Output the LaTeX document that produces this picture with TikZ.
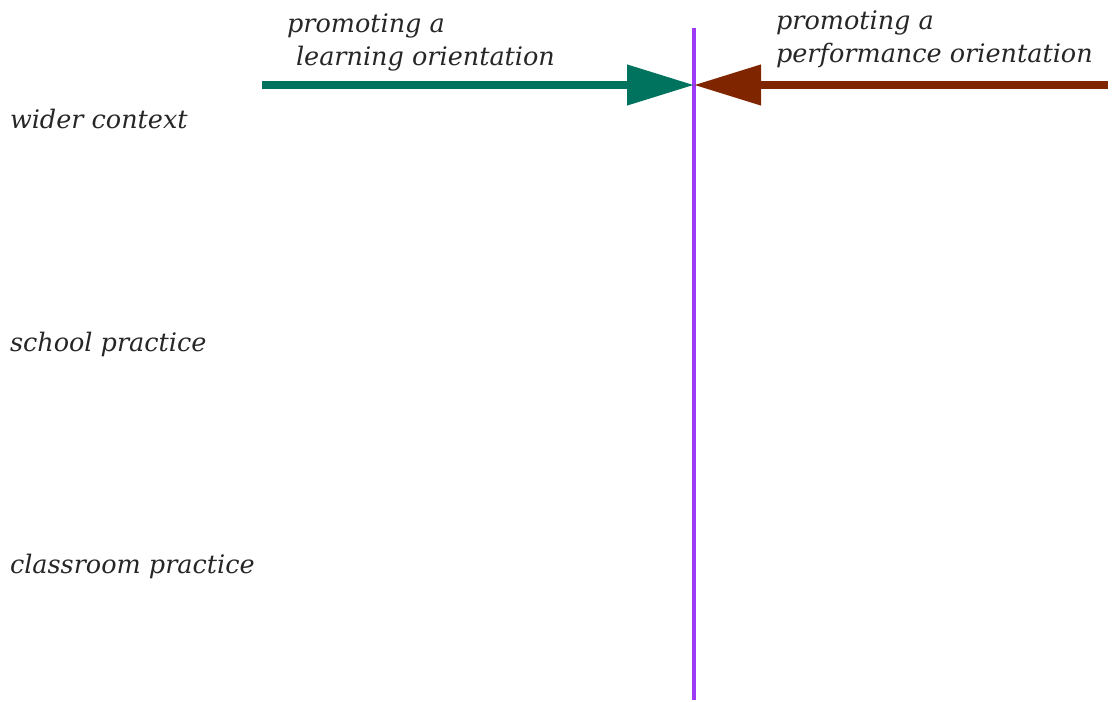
\documentclass[tikz,border=0pt]{standalone}
\usepackage{fontspec}
\setmainfont{DejaVu Serif}
\usetikzlibrary{arrows.meta,positioning}
\definecolor{learnColor}{HTML}{00735F}
\definecolor{perfColor}{HTML}{7F2600}
\definecolor{axisColor}{HTML}{9D3AF5}
\tikzset{
	lab/.style={font=\itshape\fontsize{25.5}{33}\selectfont, inner sep=0, outer sep=0, anchor=base west, align=left, text=black!85},
	push/.style={line width=7.5pt, -{Triangle[length=67pt,width=39pt]}},
	axis/.style={line width=3.5pt, axisColor}
}

\begin{document}
\begin{tikzpicture}[x=1pt, y=-1pt]
\useasboundingbox (0,0) rectangle (1112,702);
\coordinate (axTop) at (694, 28);
\coordinate (axBot) at (694, 700);
\coordinate (meet) at (694, 85);
\coordinate (learnStart) at (262, 85);
\coordinate (perfStart) at (1108, 85);
% two-line labels sit on the baseline of their last line
\node[lab] (learn) at (287, 65) {promoting a\\\hspace{9pt}learning orientation};
\node[lab] (perf) at (776, 62) {promoting a\\performance orientation};
\node[lab] (wider) at (10, 128) {wider context};
\node[lab] (school) at (10, 351) {school practice};
\node[lab] (classroom) at (10, 573) {classroom practice};
\draw[axis] (axTop) -- (axBot);
\draw[push, learnColor] (learnStart) -- (meet);
\draw[push, perfColor] (perfStart) -- (meet);
\end{tikzpicture}
\end{document}
